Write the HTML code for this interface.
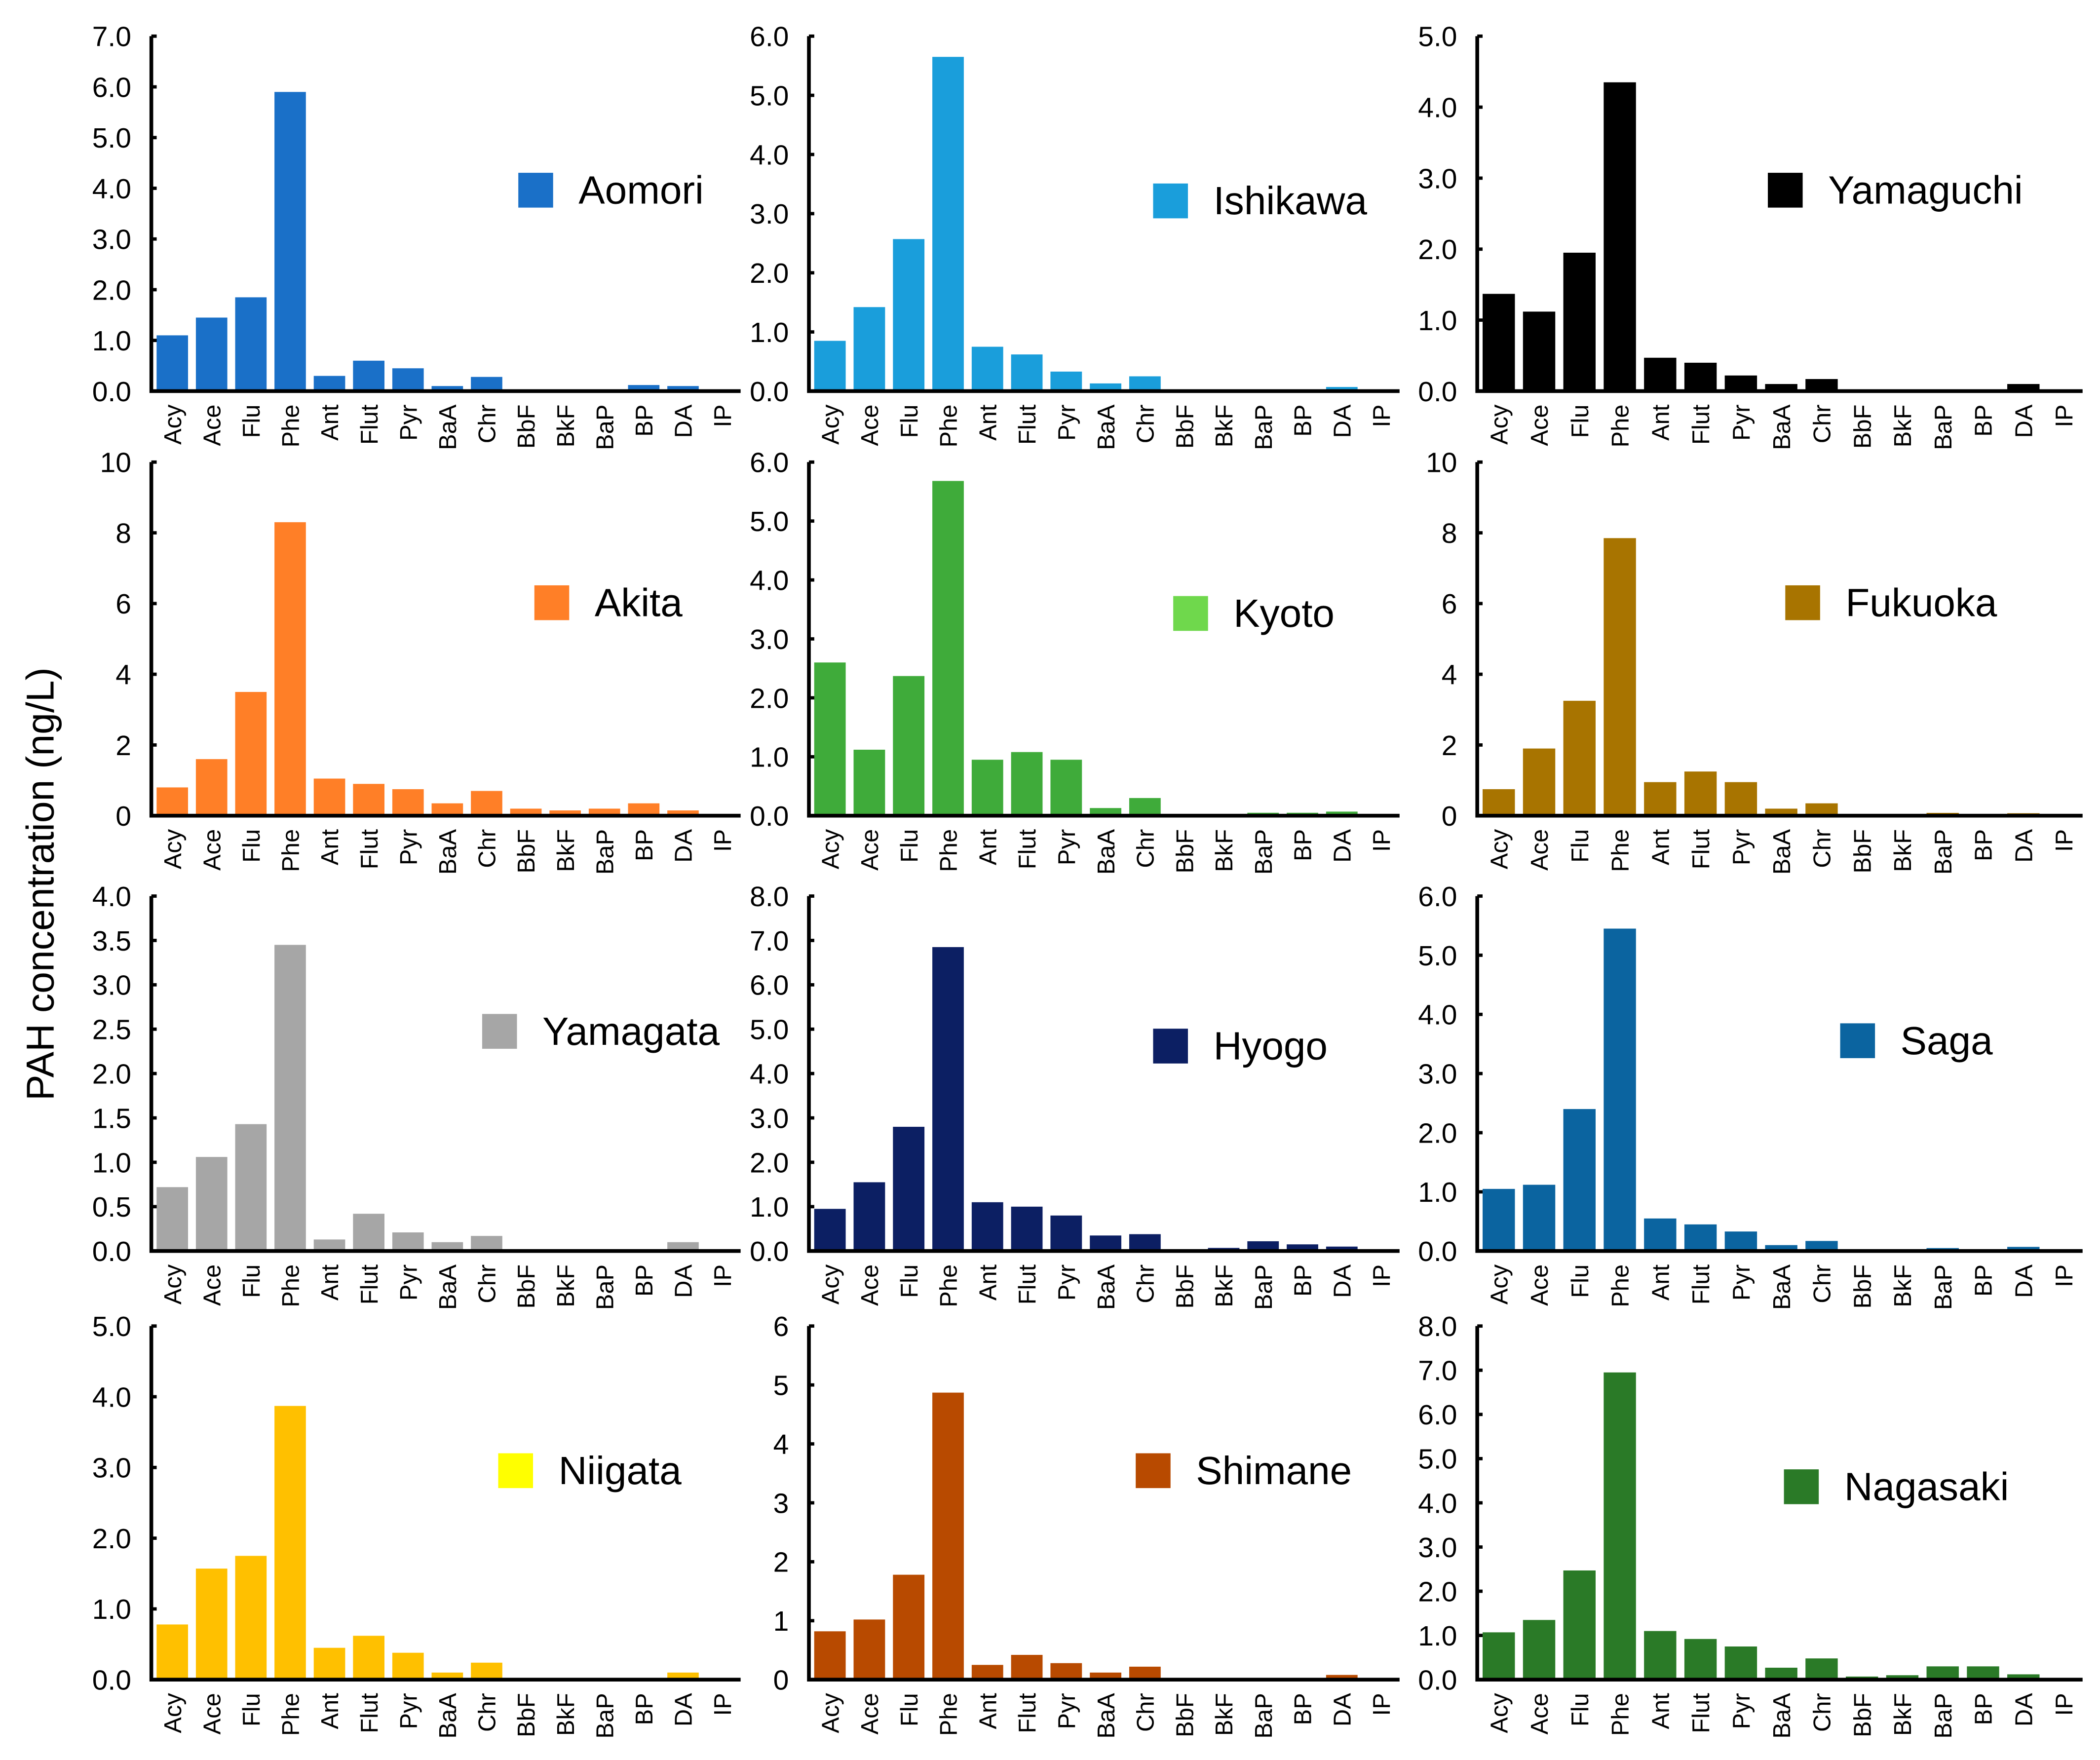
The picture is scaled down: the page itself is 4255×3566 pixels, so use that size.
<!DOCTYPE html>
<html><head><meta charset="utf-8"><style>
html,body{margin:0;padding:0;background:#fff;}
svg{display:block;font-family:"Liberation Sans",sans-serif;}
</style></head><body>
<svg id="chart" width="4255" height="3566" viewBox="0 0 1568 1314" preserveAspectRatio="none" xmlns="http://www.w3.org/2000/svg">
<rect width="1568" height="1314" fill="#fff"/>
<text transform="translate(40,660) rotate(-90)" text-anchor="middle" font-size="29" fill="#000">PAH concentration (ng/L)</text>
</svg>
<script>
const categories=["Acy","Ace","Flu","Phe","Ant","Flut","Pyr","BaA","Chr","BbF","BkF","BaP","BP","DA","IP"];
const names=["Aomori","Ishikawa","Yamaguchi","Akita","Kyoto","Fukuoka","Yamagata","Hyogo","Saga","Niigata","Shimane","Nagasaki"];
const aomori=[1.1,1.45,1.85,5.9,0.3,0.6,0.45,0.1,0.28,0,0,0,0.12,0.1,0];
const ishikawa=[0.85,1.42,2.57,5.65,0.75,0.62,0.33,0.13,0.25,0,0,0,0,0.07,0];
const yamaguchi=[1.37,1.12,1.95,4.35,0.47,0.4,0.22,0.1,0.17,0,0,0,0,0.1,0];
const akita=[0.8,1.6,3.5,8.3,1.05,0.9,0.75,0.35,0.7,0.2,0.15,0.2,0.35,0.15,0];
const kyoto=[2.6,1.12,2.37,5.68,0.95,1.08,0.95,0.13,0.3,0,0,0.05,0.05,0.07,0];
const fukuoka=[0.75,1.9,3.25,7.85,0.95,1.25,0.95,0.2,0.35,0,0,0.08,0,0.07,0];
const yamagata=[0.72,1.06,1.43,3.45,0.13,0.42,0.21,0.1,0.17,0,0,0,0,0.1,0];
const hyogo=[0.95,1.55,2.8,6.85,1.1,1.0,0.8,0.35,0.38,0,0.07,0.22,0.15,0.1,0];
const saga=[1.05,1.12,2.4,5.45,0.55,0.45,0.33,0.1,0.17,0,0,0.05,0,0.07,0];
const niigata=[0.78,1.57,1.75,3.87,0.45,0.62,0.38,0.1,0.24,0,0,0,0,0.1,0];
const shimane=[0.82,1.02,1.78,4.87,0.25,0.42,0.28,0.12,0.22,0,0,0,0,0.08,0];
const nagasaki=[1.07,1.35,2.47,6.95,1.1,0.92,0.75,0.27,0.48,0.07,0.1,0.3,0.3,0.12,0];
const series=[aomori,ishikawa,yamaguchi,akita,kyoto,fukuoka,yamagata,hyogo,saga,niigata,shimane,nagasaki];
const yMax=[7,6,5,10,6,10,4,8,6,5,6,8];
const yStep=[1,1,1,2,1,2,0.5,1,1,1,1,1];
const yDecimals=[1,1,1,0,1,0,1,1,1,1,0,1];

const barColors=["#1a70c8","#1a9edb","#000000","#ff7f27","#3fab3a","#a87400","#a6a6a6","#0c1f63","#0b64a0","#ffc000","#b84a00","#2a7a27"];
const legendColors=["#1a70c8","#1a9edb","#000000","#ff7f27","#6fd84c","#a87400","#a6a6a6","#0c1f63","#0b64a0","#ffff00","#b84a00","#2a7a27"];
const colX=[[113,553],[604,1045],[1103,1555]];
const rowY=[[27,292],[345,609],[669,934],[990,1254]];
const legendPos=[[387,142],[861,150],[1320,142],[399,450],[876,458],[1333,450],[360,770],[861,781],[1374,777],[372,1098],[848,1098],[1332,1110]];
const NS="http://www.w3.org/2000/svg";
const svg=document.getElementById('chart');
function mk(tag,attrs,parent){const e=document.createElementNS(NS,tag);for(const k in attrs)e.setAttribute(k,attrs[k]);parent.appendChild(e);return e;}
for(let p=0;p<12;p++){
  const [x0,x1]=colX[p%3];const [y0,y1]=rowY[Math.floor(p/3)];
  const g=mk('g',{},svg);
  
  
  const yS=v=>y1-(v/yMax[p])*(y1-y0);
  const bw=(x1-x0)/categories.length;
  const xS=i=>x0+bw*i;
  series[p].forEach((v,i)=>{
    if(v<=0)return;
    const r=mk('rect',{x:xS(i)+bw*0.1+1,y:yS(v),width:bw*0.8,height:y1-yS(v),fill:barColors[p]},g);
    
    
  });
  const ax=mk('path',{d:`M${x0},${y0} V${y1} H${x1}`,stroke:'#000','stroke-width':2.8,fill:'none'},g);
  
  
  const n=Math.round(yMax[p]/yStep[p]);
  for(let k=0;k<=n;k++){
    const v=k*yStep[p];const y=yS(v);
    mk('line',{x1:x0,x2:x0+4,y1:y,y2:y,stroke:'#000','stroke-width':2.5},g);
    const t=mk('text',{x:x0-15,y:y+7.5,'text-anchor':'end','font-size':21,fill:'#000'},g);
    t.textContent=v.toFixed(yDecimals[p]);
    
    
  }
  categories.forEach((c,i)=>{
    const cx=xS(i)+bw/2+1;
    const t=mk('text',{transform:`translate(${cx+6.5},${y1+10}) rotate(-90)`,'text-anchor':'end','font-size':18,fill:'#000'},g);
    t.textContent=c;
    
    
  });
  const [lx,ly]=legendPos[p];
  const sq=mk('rect',{x:lx,y:ly-13,width:26,height:26,fill:legendColors[p]},g);
  
  
  const lt=mk('text',{x:lx+45,y:ly+10,'font-size':29.5,fill:'#000'},g);
  lt.textContent=names[p];
  
  
}
</script>
</body></html>
